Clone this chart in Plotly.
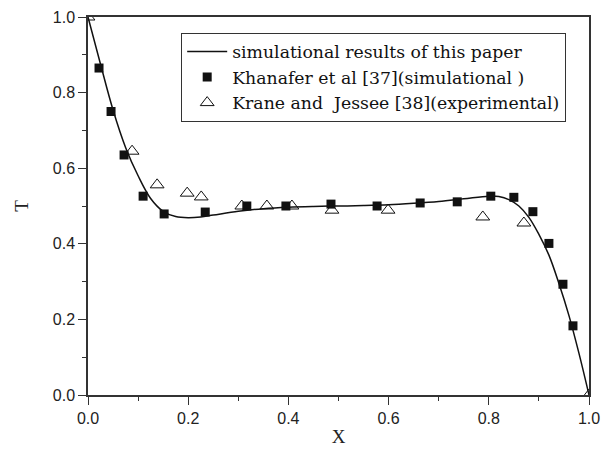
import plotly.graph_objects as go

# Simulational results of this paper (line)
line_x = [0, 0.025, 0.05, 0.075, 0.1, 0.125, 0.15, 0.175, 0.2, 0.225, 0.25, 0.3, 0.35, 0.4,
          0.45, 0.5, 0.55, 0.6, 0.65, 0.7, 0.75, 0.8, 0.82, 0.84, 0.86, 0.88, 0.9, 0.92,
          0.94, 0.96, 0.98, 1.0]
line_y = [1.0, 0.875, 0.754, 0.655, 0.58, 0.52, 0.486, 0.472, 0.469, 0.471, 0.476, 0.486,
          0.493, 0.497, 0.499, 0.5, 0.501, 0.503, 0.507, 0.512, 0.519, 0.526, 0.525, 0.517,
          0.5, 0.47, 0.425, 0.37, 0.295, 0.21, 0.11, 0.0]

# Khanafer et al [37] (simulational)
kh_x = [0.022, 0.046, 0.072, 0.11, 0.152, 0.234, 0.317, 0.395, 0.485, 0.577, 0.663, 0.737,
        0.804, 0.85, 0.888, 0.92, 0.948, 0.968]
kh_y = [0.865, 0.75, 0.635, 0.526, 0.479, 0.484, 0.5, 0.5, 0.505, 0.5, 0.508, 0.511,
        0.526, 0.523, 0.485, 0.401, 0.293, 0.183]

# Krane and Jessee [38] (experimental)
kj_x = [0.0, 0.088, 0.138, 0.198, 0.226, 0.307, 0.357, 0.407, 0.487, 0.599, 0.788, 0.870, 1.0]
kj_y = [1.0, 0.645, 0.556, 0.534, 0.524, 0.5, 0.5, 0.5, 0.489, 0.489, 0.471, 0.455, 0.0]

x_ticks = [0.0, 0.2, 0.4, 0.6, 0.8, 1.0]
y_ticks = [0.0, 0.2, 0.4, 0.6, 0.8, 1.0]

fig = go.Figure()
fig.add_trace(go.Scatter(
    x=line_x, y=line_y, mode="lines", line=dict(color="#111", width=1.5, shape="spline"),
    name="simulational results of this paper"))
fig.add_trace(go.Scatter(
    x=kh_x, y=kh_y, mode="markers",
    marker=dict(symbol="square", size=9, color="#111", line=dict(width=0)),
    name="Khanafer et al [37](simulational )"))
fig.add_trace(go.Scatter(
    x=kj_x, y=kj_y, mode="markers",
    marker=dict(symbol="triangle-up-open", size=12, color="#111", line=dict(width=1)),
    name="Krane and  Jessee [38](experimental)"))

axis_common = dict(
    showgrid=False, zeroline=False, showline=True, linecolor="#333", linewidth=1.5,
    mirror=True, ticks="outside", ticklen=8, tickwidth=1.2, tickcolor="#333",
    tickfont=dict(family="Liberation Sans, Arial, sans-serif", size=16, color="#222"),
    tickformat=".1f", automargin=False,
    minor=dict(ticks="outside", ticklen=4, tickwidth=1, tickcolor="#333", dtick=0.1),
)

fig.update_layout(
    width=606, height=441,
    margin=dict(l=80, r=25, t=9, b=54),
    paper_bgcolor="white", plot_bgcolor="white",
    showlegend=True,
    legend=dict(
        x=0.186, y=0.958, xanchor="left", yanchor="top",
        bordercolor="#333", borderwidth=1, bgcolor="white",
        font=dict(family="DejaVu Serif, serif", size=17.3, color="#111"),
        itemwidth=40, tracegroupgap=0,
    ),
    xaxis=dict(range=[0, 1], tickvals=x_ticks,
               title=dict(text="X", standoff=4,
                          font=dict(family="Liberation Serif, Times New Roman, serif", size=19, color="#222")),
               **axis_common),
    yaxis=dict(range=[0, 1], tickvals=y_ticks,
               title=dict(text="T", standoff=19,
                          font=dict(family="Liberation Serif, Times New Roman, serif", size=19, color="#222")),
               **axis_common),
)

fig.write_html("out.html")
